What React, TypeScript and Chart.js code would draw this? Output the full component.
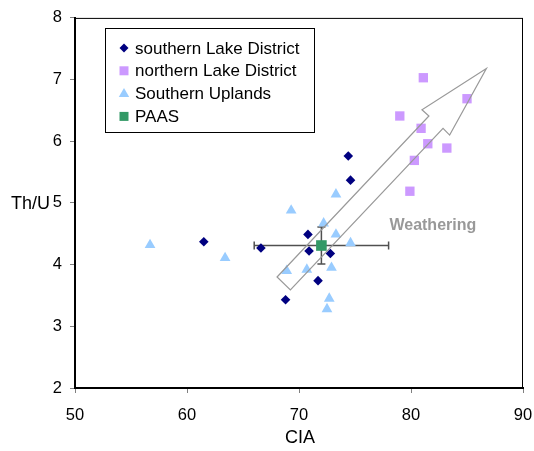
import { useEffect, useRef } from 'react';
import { Chart, registerables } from 'chart.js';
Chart.register(...registerables);

const southLakeCIA = [61.5, 66.6, 68.8, 70.8, 70.9, 71.7, 72.8, 74.4, 74.6];
const southLakeThU = [4.37, 4.27, 3.43, 4.49, 4.22, 3.74, 4.18, 5.76, 5.37];
const northLakeCIA = [81.1, 85.0, 79.0, 80.9, 81.5, 83.2, 80.3, 79.9];
const northLakeThU = [7.03, 6.69, 6.41, 6.21, 5.96, 5.89, 5.69, 5.19];
const uplandsCIA = [56.7, 63.4, 68.9, 69.3, 70.7, 72.2, 72.5, 72.7, 72.9, 73.3, 73.3, 74.6];
const uplandsThU = [4.32, 4.11, 3.90, 4.88, 3.92, 4.67, 3.28, 3.45, 3.95, 5.14, 4.49, 4.35];
const paasCIA = [72.0];
const paasThU = [4.31];
const paasErrCIA = [6];
const paasErrThU = [0.3];

const arrowCIA = [68.04, 81.6, 80.98, 86.73, 83.45, 82.86, 69.23];
const arrowThU = [3.8, 6.41, 6.51, 7.18, 6.1, 6.21, 3.59];
const arrowLabel = 'Weathering';
const arrowLabelPos = [81.95, 4.63];

const seriesNames = ['southern Lake District', 'northern Lake District', 'Southern Uplands', 'PAAS'];
const xTitle = 'CIA';
const yTitle = 'Th/U';

const FONT = "'Liberation Sans', Arial, sans-serif";
const COLORS = ['#000080', '#CC99FF', '#99CCFF', '#339966'];
const SHAPES = ['rectRot', 'rect', 'triangle', 'rect'];

const pts = (xs: number[], ys: number[]) => xs.map((x, i) => ({ x, y: ys[i] }));

function drawMarker(ctx: CanvasRenderingContext2D, shape: string, x: number, y: number, color: string) {
  ctx.save();
  ctx.fillStyle = color;
  ctx.beginPath();
  if (shape === 'rectRot') {
    const r = 4.5;
    ctx.moveTo(x - r, y); ctx.lineTo(x, y - r); ctx.lineTo(x + r, y); ctx.lineTo(x, y + r);
  } else if (shape === 'triangle') {
    const r = 6;
    ctx.moveTo(x, y - r * 0.75 - 1); ctx.lineTo(x + r * 0.87, y + r * 0.75 - 1); ctx.lineTo(x - r * 0.87, y + r * 0.75 - 1);
  } else {
    const s = 4.5;
    ctx.rect(x - s, y - s, 2 * s, 2 * s);
  }
  ctx.closePath();
  ctx.fill();
  ctx.restore();
}

const overlayPlugin = {
  id: 'overlay',
  beforeDatasetsDraw(chart: any) {
    const { ctx, scales } = chart;
    const xs = scales.x, ys = scales.y;
    ctx.save();
    ctx.strokeStyle = '#505050';
    ctx.lineWidth = 1.5;
    paasCIA.forEach((cx, i) => {
      const px = xs.getPixelForValue(cx);
      const py = ys.getPixelForValue(paasThU[i]);
      const x0 = xs.getPixelForValue(cx - paasErrCIA[i]);
      const x1 = xs.getPixelForValue(cx + paasErrCIA[i]);
      const y0 = ys.getPixelForValue(paasThU[i] - paasErrThU[i]);
      const y1 = ys.getPixelForValue(paasThU[i] + paasErrThU[i]);
      ctx.beginPath();
      ctx.moveTo(x0, py); ctx.lineTo(x1, py);
      ctx.moveTo(x0, py - 4); ctx.lineTo(x0, py + 4);
      ctx.moveTo(x1, py - 4); ctx.lineTo(x1, py + 4);
      ctx.moveTo(px, y0); ctx.lineTo(px, y1);
      ctx.moveTo(px - 4, y0); ctx.lineTo(px + 4, y0);
      ctx.moveTo(px - 4, y1); ctx.lineTo(px + 4, y1);
      ctx.stroke();
    });
    ctx.restore();
  },
  afterDatasetsDraw(chart: any) {
    const { ctx, scales, chartArea } = chart;
    const xs = scales.x, ys = scales.y;
    ctx.save();
    // arrow
    ctx.strokeStyle = '#999999';
    ctx.lineWidth = 1.2;
    ctx.beginPath();
    arrowCIA.forEach((v, i) => {
      const px = xs.getPixelForValue(v);
      const py = ys.getPixelForValue(arrowThU[i]);
      if (i === 0) ctx.moveTo(px, py); else ctx.lineTo(px, py);
    });
    ctx.closePath();
    ctx.stroke();
    ctx.fillStyle = '#999999';
    ctx.font = `bold 16px ${FONT}`;
    ctx.textAlign = 'center';
    ctx.textBaseline = 'middle';
    ctx.fillText(arrowLabel, xs.getPixelForValue(arrowLabelPos[0]), ys.getPixelForValue(arrowLabelPos[1]));

    // frame
    ctx.strokeStyle = '#000000';
    ctx.lineWidth = 1;
    ctx.strokeRect(chartArea.left, chartArea.top + 0.5, chartArea.right - chartArea.left - 0.5, chartArea.bottom - chartArea.top);

    // legend
    const lx = 105.5, ly = 28.5, lw = 209, lh = 104;
    ctx.fillStyle = '#ffffff';
    ctx.fillRect(lx, ly, lw, lh);
    ctx.strokeStyle = '#000000';
    ctx.lineWidth = 1;
    ctx.strokeRect(lx, ly, lw, lh);
    ctx.font = `17px ${FONT}`;
    ctx.textAlign = 'left';
    ctx.textBaseline = 'middle';
    seriesNames.forEach((name, i) => {
      const ry = 48 + i * 22.8;
      drawMarker(ctx, SHAPES[i], 124, ry, COLORS[i]);
      ctx.fillStyle = '#000000';
      ctx.fillText(name, 135, ry + 1);
    });

    // axis titles
    ctx.font = `18px ${FONT}`;
    ctx.fillStyle = '#000000';
    ctx.textAlign = 'left';
    ctx.fillText(yTitle, 11, 204);
    ctx.textAlign = 'center';
    ctx.fillText(xTitle, 300, 438);
    ctx.restore();
  },
};

export default function App() {
  const ref = useRef<HTMLCanvasElement>(null);
  useEffect(() => {
    if (!ref.current) return;
    const chart = new Chart(ref.current, {
      type: 'scatter',
      data: {
        datasets: [
          { label: seriesNames[0], data: pts(southLakeCIA, southLakeThU), pointStyle: 'rectRot', pointRadius: 4.8, backgroundColor: COLORS[0], borderColor: COLORS[0], borderWidth: 0 },
          { label: seriesNames[1], data: pts(northLakeCIA, northLakeThU), pointStyle: 'rect', pointRadius: 6.6, backgroundColor: COLORS[1], borderColor: COLORS[1], borderWidth: 0 },
          { label: seriesNames[2], data: pts(uplandsCIA, uplandsThU), pointStyle: 'triangle', pointRadius: 6.2, backgroundColor: COLORS[2], borderColor: COLORS[2], borderWidth: 0 },
          { label: seriesNames[3], data: pts(paasCIA, paasThU), pointStyle: 'rect', pointRadius: 7.5, backgroundColor: COLORS[3], borderColor: COLORS[3], borderWidth: 0 },
        ],
      },
      options: {
        animation: false,
        responsive: false,
        devicePixelRatio: 1,
        layout: { padding: { top: 17, right: 11, left: 0, bottom: 0 } },
        plugins: { legend: { display: false }, tooltip: { enabled: false } },
        scales: {
          x: {
            type: 'linear', min: 50, max: 90,
            ticks: { stepSize: 10, color: '#000', font: { family: FONT, size: 16.5 }, padding: 13 },
            grid: { drawOnChartArea: false, drawTicks: true, tickLength: 5, color: '#808080' },
            border: { display: true, color: '#000', width: 2 },
            afterFit: (s: any) => { s.height = 63; s.paddingRight = 0; s.paddingLeft = 0; },
          },
          y: {
            type: 'linear', min: 2, max: 8,
            ticks: { stepSize: 1, color: '#000', font: { family: FONT, size: 16.5 }, padding: 8 },
            grid: { drawOnChartArea: false, drawTicks: true, tickLength: 5, color: '#808080' },
            border: { display: true, color: '#000', width: 2 },
            afterFit: (s: any) => { s.width = 75; },
          },
        },
      },
      plugins: [overlayPlugin],
    });
    return () => chart.destroy();
  }, []);
  return (
    <div style={{ position: 'fixed', left: 0, top: 0, width: 534, height: 451, background: '#fff' }}>
      <canvas ref={ref} width={534} height={451} style={{ display: 'block' }} />
    </div>
  );
}
